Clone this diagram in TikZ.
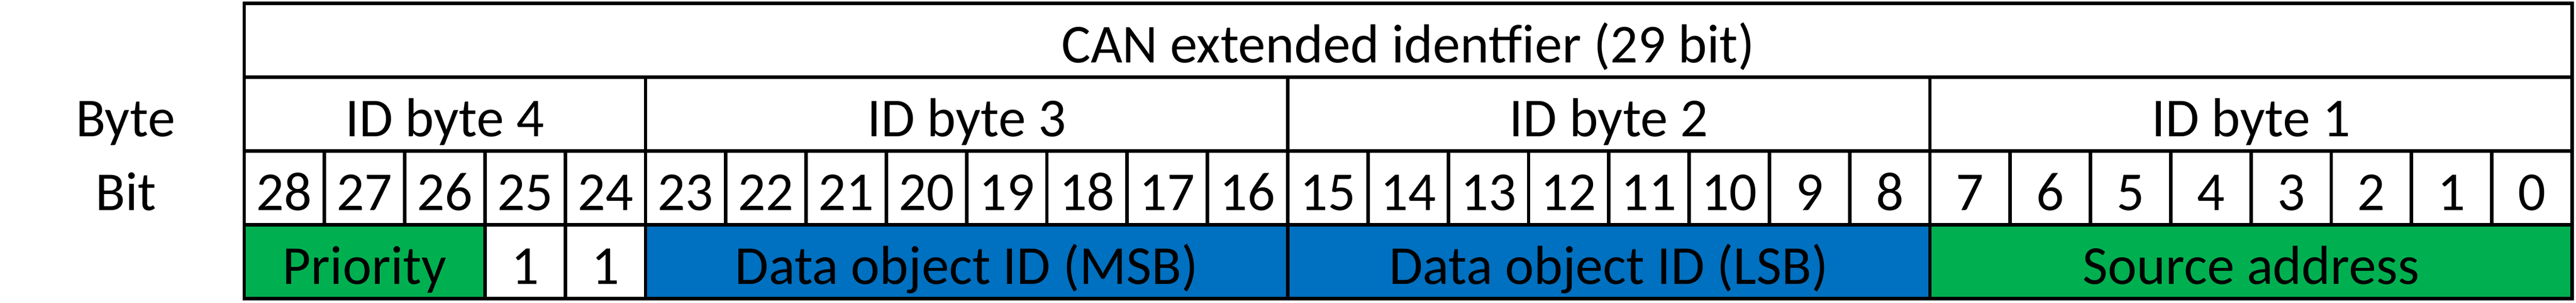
\documentclass[tikz,border=0pt]{standalone}
\usepackage{fontspec}
\setmainfont{Carlito}
\usepackage{tikz}
\definecolor{qqbqvq}{rgb}{0.,0.6901960784313725,0.3137254901960784}
\definecolor{qqxqcq}{rgb}{0.,0.4392156862745098,0.7529411764705882}
\tikzset{bitcell/.style={draw,line width=0.08cm,inner sep=0pt,minimum width=#1*1.8367cm,minimum height=1.684cm,text height=1.1cm,text depth=0.076cm},
bitcell/.default=1,
rowlabel/.style={inner sep=0pt,text height=1.1cm,text depth=0.076cm,minimum height=1.684cm}}
\begin{document}
\begin{tikzpicture}[x=1.8367cm,y=1.684cm,font=\fontsize{35.7pt}{40pt}\selectfont]
\useasboundingbox (-3.042,-0.061) rectangle (29.049,4.0475);
\node[bitcell=29] (title) at (14.5,3.5) {CAN extended identfier (29 bit)};
\node[rowlabel] (bytelabel) at (-1.479,2.5) {Byte};
\node[rowlabel] (bitlabel) at (-1.474,1.5) {Bit};
\node[bitcell=5] (byte4) at (2.5,2.5) {ID byte 4};
\node[bitcell=8] (byte3) at (9,2.5) {ID byte 3};
\node[bitcell=8] (byte2) at (17,2.5) {ID byte 2};
\node[bitcell=8] (byte1) at (25,2.5) {ID byte 1};
\foreach \b in {28,...,0}
\node[bitcell] (bit\b) at (28.5-\b,1.5) {\b};
\node[bitcell=3,fill=qqbqvq] (priority) at (1.5,0.5) {Priority};
\node[bitcell] (res25) at (3.5,0.5) {1};
\node[bitcell] (res24) at (4.5,0.5) {1};
\node[bitcell=8,fill=qqxqcq] (objmsb) at (9,0.5) {Data object ID (MSB)};
\node[bitcell=8,fill=qqxqcq] (objlsb) at (17,0.5) {Data object ID (LSB)};
\node[bitcell=8,fill=qqbqvq] (source) at (25,0.5) {Source address};
\end{tikzpicture}
\end{document}
